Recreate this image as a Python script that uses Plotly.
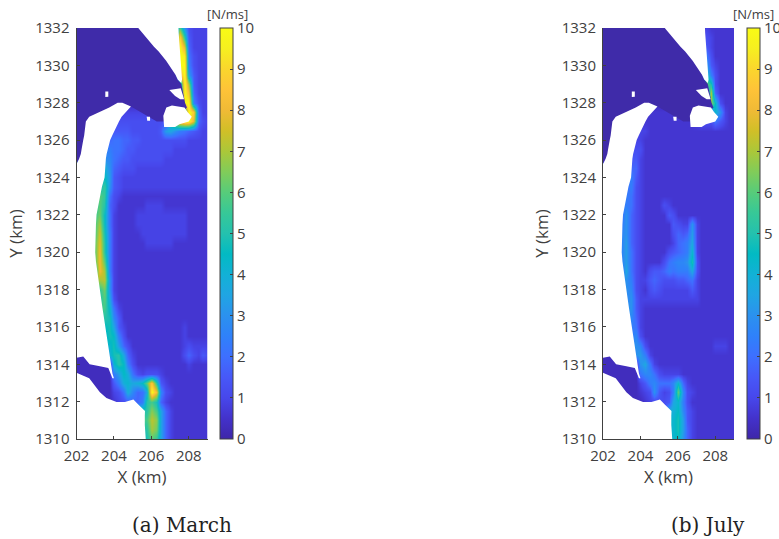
import plotly.graph_objects as go

X_KM = [202 + 0.25 * i for i in range(29)]
Y_KM = [1332 - 0.5 * i for i in range(45)]
X_TICKS = [202, 204, 206, 208]
Y_TICKS = list(range(1310, 1333, 2))
CB_TICKS = list(range(0, 11))
CODE = "0123456789abcdefghijklmnopqrstuvwxyz"  # one step = 0.3 N/ms

MARCH = [
    "1"*22+"ka43333", "1"*22+"uh53333", "1"*22+"yq63333", "1"*22+"yw74333", "1"*22+"yy84333",
    "1"*22+"qyb5333", "1"*22+"ayn5333", "1"*22+"4ys6333", "1"*22+"3wy8433",
    "3"*23+"ayt633",
    "4"*20+"gnuyyq643",
    "555555555555444444"+"5bca8765433",
    "66666666"+"77"+"66"+"55"+"44444"+"4444433333",
    "888888"+"88"+"77"+"6"+"55"+"44"+"44444433333333",
    "aaaaaa"+"a9"+"76"+"55"+"44"+"444443333333333",
    "cccccc"+"da65"+"4"+"44"+"3"*16,
    "ffffff"+"fb54"+"3"*19,
    "gggggg"+"ia54"+"3"*19,
    "kkkkkk"+"i743"+"2"*19,
    "iiiii"+"kh642"+"2222233332222222222",
    "jjjjj"+"lf73"+"22223333333333322222",
    "kkkkk"+"nf73"+"22223333333333322222",
    "kkkkk"+"pg83"+"22222333333333322222",
    "lllll"+"qh83"+"22222233333322222222",
    "lllll"+"rh83"+"2"*20,
    "lllll"+"rk83"+"2"*20,
    "iiiii"+"rn83"+"2"*20,
    "nnnnnn"+"oa3"+"2"*20,
    "iiiiii"+"la3"+"2"*20,
    "hhhhhh"+"kc4"+"2"*20,
    "jjjjjjj"+"e73"+"2"*19,
    "hhhhhhh"+"g95"+"2"*19,
    "fffffff"+"gc5"+"3"+"2"*12+"3"+"2"*5,
    "eeeeeee"+"gf8"+"4"+"2"*12+"3"+"2"*5,
    "eeeeeee"+"egb6"+"4"+"2"*11+"343333",
    "1111111"+"dghc63"+"2"*10+"464354",
    "11111111"+"ehf84"+"2"*11+"32222",
    "11111111"+"8bfd74"+"34443"+"2"*10,
    "11111111"+"58decdfkth53"+"2"*9,
    "11111111"+"347d967cyr943"+"2"*8,
    "11111111"+"2345668hjg63"+"2"*9,
    "h"*15+"hmjc63"+"2"*8,
    "j"*16+"omc63"+"2"*8,
    "h"*16+"nlc63"+"2"*8,
    "g"*16+"kic63"+"2"*8,
]

JULY = [
    "1"*22+"3222222", "1"*22+"4322222", "1"*22+"5322222", "1"*22+"8422222", "1"*22+"b532222",
    "1"*22+"g842222", "1"*22+"lg42222", "1"*22+"9n62222", "1"*22+"4mf4222",
    "2"*22+"36ea322",
    "2"*20+"34"+"4475322",
    "3"*10+"2"*19,
    "3"*9+"2"*20,
    "4"*9+"2"*20,
    "5"*8+"3"+"2"*20,
    "6"*8+"3"+"2"*20,
    "8"*7+"53"+"2"*20,
    "777777"+"843"+"2"*20,
    "888888"+"743"+"2"*20,
    "888888743"+"2222"+"43"+"2"*14,
    "77777a643"+"22222"+"54"+"2"*13,
    "88888a643"+"222222"+"5433a3"+"2"*8,
    "99999a643"+"222222"+"4656b3"+"2"*8,
    "99999b643"+"2222223"+"678c3"+"2"*8,
    "99999b743"+"22222"+"45678e3"+"2"*8,
    "99999b743"+"2222"+"478"+"99ag4"+"2"*8,
    "88888c743"+"2"+"4556"+"878"+"88c4"+"2"*8,
    "aaaaaa843"+"3"+"56544"+"4556"+"73"+"2"*8,
    "aaaaaa943"+"2"+"4543"+"33333"+"53"+"2"*8,
    "999999a53"+"3"*12+"2"*8,
    "aaaaaaa53"+"2"*20,
    "9999999"+"63"+"2"*20,
    "8888888"+"73"+"2"*20,
    "8888888"+"94"+"2"*20,
    "aaaaaaaa"+"94"+"2"*14+"333"+"22",
    "1111111"+"ab83"+"2"*18,
    "11111111"+"ac73"+"2"*17,
    "11111111"+"7997"+"4"+"3333"+"2"*12,
    "11111111"+"3589777"+"9e63"+"2"*10,
    "11111111"+"234a5348k943"+"2"*9,
    "11111111"+"1233445ce84"+"2"*10,
    "4"*14+"ddf953"+"2"*9,
    "e"*16+"gb53"+"2"*9,
    "e"*16+"gb63"+"2"*9,
    "e"*16+"fa63"+"2"*9,
]

# Land outlines in km
DARK_LAND_X = [202, 205.30, 205.52, 205.75, 205.93, 206.14, 206.38, 206.60, 206.79, 206.95, 207.14,
               207.29, 207.41, 207.60, 207.80, 207.90, 207.75, 206.64, 206.29, 205.86, 205.41, 204.91,
               204.30, 203.00, 202.50, 202.00]
DARK_LAND_Y = [1332, 1332, 1331.75, 1331.5, 1331.25, 1331, 1330.75, 1330.5, 1330.25, 1330, 1329.75,
               1329.5, 1329.25, 1329, 1328, 1327.75, 1327.6, 1327, 1327, 1327.25, 1327.5, 1327.8,
               1327.5, 1326.5, 1325.5, 1324.75]
WEDGE_X = [205.30, 207.45, 207.46, 207.48, 207.49, 207.50, 207.52, 207.54, 207.55, 207.57, 207.59,
           207.61, 207.64, 207.60, 207.41, 207.29, 207.14, 206.95, 206.79, 206.60, 206.38, 206.14,
           205.93, 205.75, 205.52, 205.30]
WEDGE_Y = [1332, 1332, 1331.75, 1331.5, 1331.25, 1331, 1330.75, 1330.5, 1330.25, 1330, 1329.75,
           1329.5, 1329.25, 1329.05, 1329.25, 1329.5, 1329.75, 1330, 1330.25, 1330.5, 1330.75, 1331,
           1331.25, 1331.5, 1331.75, 1332]
NOTCH_X = [206.96, 207.57, 207.75, 207.54, 207.27, 206.96]
NOTCH_Y = [1328.68, 1328.77, 1328.18, 1328.18, 1328.36, 1328.68]
WEST_X = [202, 202.02, 202.14, 202.23, 202.27, 202.30, 202.36, 202.41, 202.43, 202.46, 202.50, 202.68,
          203.25, 203.75, 204.20, 204.45, 204.91, 204.64, 204.41, 204.27, 204.14, 204.02, 203.91, 203.80,
          203.73, 203.66, 203.61, 203.57, 203.55, 203.50, 203.36, 203.25, 203.16, 203.07, 203.04, 203.02,
          203.00, 203.00, 203.04, 203.10, 203.18, 203.25, 203.32, 203.39, 203.46, 203.53, 203.60, 203.69,
          203.77, 203.85, 203.92, 204.00, 203.92, 203.84, 203.70, 203.25, 202.70, 202.36, 202.00, 202]
WEST_Y = [1324.75, 1324.75, 1325, 1325.25, 1325.5, 1325.75, 1326, 1326.25, 1326.5, 1326.75, 1327, 1327.25,
          1327.5, 1327.75, 1328, 1328, 1327.8, 1327.5, 1327.25, 1327, 1326.75, 1326.5, 1326.25, 1326,
          1325.75, 1325.5, 1325.25, 1325, 1324.75, 1324, 1323.5, 1323, 1322.5, 1322, 1321.5, 1321,
          1320.5, 1320, 1319.5, 1319, 1318.5, 1318, 1317.5, 1317, 1316.5, 1316, 1315.5, 1315,
          1314.5, 1314, 1313.5, 1313.25, 1313.25, 1313.45, 1313.8, 1313.9, 1314, 1314.42, 1314.35, 1324.75]
SOUTH_X = [202, 202.09, 202.68, 202.86, 203.04, 203.25, 203.60, 204.14, 204.59, 205.04, 205.30, 205.66,
           205.65, 205.65, 205.70, 202, 202]
SOUTH_Y = [1313.55, 1313.5, 1313.25, 1313, 1312.75, 1312.5, 1312.2, 1311.98, 1311.98, 1312.12, 1311.85, 1311.5,
           1311.25, 1310.75, 1310, 1310, 1313.55]
ISLAND_X = [206.64, 206.80, 207.10, 207.77, 207.93, 208.16, 208.00, 207.50, 207.27, 206.68, 206.64]
ISLAND_Y = [1327.30, 1327.75, 1327.85, 1327.75, 1327.50, 1327.25, 1327.00, 1326.85, 1326.70, 1326.70, 1327.30]
SPOT1_X = [203.54, 203.70, 203.70, 203.54, 203.54]
SPOT1_Y = [1328.30, 1328.32, 1328.60, 1328.60, 1328.30]
SPOT2_X = [205.75, 205.93, 205.93, 205.78, 205.75]
SPOT2_Y = [1327.25, 1327.25, 1327.03, 1327.03, 1327.25]
WHITE_POLYGONS = [(WEDGE_X, WEDGE_Y), (NOTCH_X, NOTCH_Y), (WEST_X, WEST_Y), (SOUTH_X, SOUTH_Y),
                  (ISLAND_X, ISLAND_Y), (SPOT1_X, SPOT1_Y), (SPOT2_X, SPOT2_Y)]

PARULA = [
    (0.2422,0.1504,0.6603),(0.2647,0.1978,0.7952),(0.2803,0.2782,0.9221),(0.2795,0.3447,0.9717),
    (0.2440,0.4358,0.9988),(0.1834,0.5074,0.9798),(0.1687,0.5703,0.9359),(0.1248,0.6459,0.8883),
    (0.0689,0.6948,0.8394),(0.0067,0.7312,0.7660),(0.1408,0.7584,0.6842),(0.2161,0.7843,0.5923),
    (0.3406,0.8008,0.4789),(0.5044,0.7993,0.3480),(0.6720,0.7793,0.2227),(0.8203,0.7498,0.1535),
    (0.9393,0.7288,0.2100),(0.9970,0.7659,0.2199),(0.9786,0.8386,0.1766),(0.9628,0.9373,0.1265),
    (0.9769,0.9839,0.0805),
]
COLORSCALE = [[i/(len(PARULA)-1), "rgb(%d,%d,%d)" % tuple(round(c*255) for c in p)] for i, p in enumerate(PARULA)]
INK = "#404040"
LAND = "#3f2ba9"
FONT = "Open Sans"
W, H = 779, 539


def decode(rows):
    for r in rows:
        assert len(r) == 29, (len(r), r)
    return [[min(10.0, CODE.index(c) * 0.3) for c in r] for r in rows]


def px_x(p):
    return p / W


def px_y(p):
    return 1 - p / H


fig = go.Figure()
panels = [("", MARCH, 76.5, 207.5, 220), ("2", JULY, 603, 734, 747)]
for suffix, rows, x0, x1, cx in panels:
    fig.add_trace(go.Heatmap(
        x=X_KM, y=Y_KM, z=decode(rows), zmin=0, zmax=10, zsmooth="best",
        colorscale=COLORSCALE, xaxis="x"+suffix, yaxis="y"+suffix, hoverinfo="skip",
        colorbar=dict(
            x=px_x(cx), xanchor="left", xpad=0, thickness=13, thicknessmode="pixels",
            y=px_y(28), yanchor="top", ypad=0, len=411/H, lenmode="fraction",
            outlinecolor=INK, outlinewidth=1, tickmode="array", tickvals=CB_TICKS,
            ticks="inside", ticklen=3, tickcolor=INK, tickwidth=1,
            tickfont=dict(family=FONT, size=15, color=INK),
        ),
    ))
    fig.add_trace(go.Scatter(x=DARK_LAND_X, y=DARK_LAND_Y, mode="lines", fill="toself", fillcolor=LAND,
                             line=dict(width=0), xaxis="x"+suffix, yaxis="y"+suffix, hoverinfo="skip"))
    for px, py in WHITE_POLYGONS:
        fig.add_trace(go.Scatter(x=px, y=py, mode="lines", fill="toself", fillcolor="white",
                                 line=dict(width=0), xaxis="x"+suffix, yaxis="y"+suffix, hoverinfo="skip"))

axis = dict(showgrid=False, zeroline=False, showline=True, linecolor=INK, linewidth=1, layer="above traces",
            ticks="inside", ticklen=3, tickcolor=INK, tickwidth=1, ticklabelstandoff=3,
            tickfont=dict(family=FONT, size=15, color=INK))
layout = dict(width=W, height=H, autosize=False, paper_bgcolor="white", plot_bgcolor="white",
              margin=dict(l=0, r=0, t=0, b=0, pad=0, autoexpand=False), showlegend=False)
for suffix, rows, x0, x1, cx in panels:
    layout["xaxis"+suffix] = dict(axis, domain=[px_x(x0), px_x(x1)], range=[202, 209], tickmode="array",
                                  tickvals=X_TICKS, anchor="y"+suffix,
                                  title=dict(text="X (km)", standoff=6, font=dict(family=FONT, size=17, color=INK)))
    layout["yaxis"+suffix] = dict(axis, domain=[px_y(439), px_y(28)], range=[1310, 1332], tickmode="array",
                                  tickvals=Y_TICKS, anchor="x"+suffix,
                                  title=dict(text="Y (km)", standoff=8, font=dict(family=FONT, size=17, color=INK)))
fig.update_layout(**layout)

for text, x, y, fam, size, col in [
    ("[N/ms]", 227, 14, FONT, 13, INK),
    ("[N/ms]", 753, 14, FONT, 13, INK),
    ("(a) March", 182, 525, "DejaVu Serif", 20, "#222222"),
    ("(b) July", 708, 525, "DejaVu Serif", 20, "#222222"),
]:
    fig.add_annotation(text=text, x=px_x(x), y=px_y(y), xref="paper", yref="paper", xanchor="center",
                       yanchor="middle", showarrow=False, font=dict(family=fam, size=size, color=col))

# The page's default body margin would push the fixed-size figure off by 8 px.
fig.write_html("out.html", config={"displayModeBar": False}, post_script="document.body.style.margin='0';")
